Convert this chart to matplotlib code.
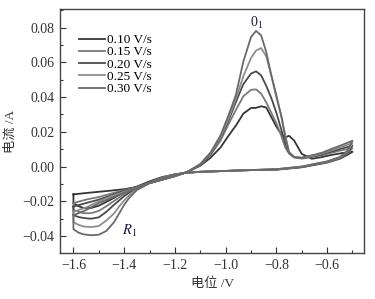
import matplotlib
matplotlib.use("Agg")
import matplotlib.pyplot as plt
from matplotlib.ticker import MultipleLocator

plt.rcParams['font.family'] = ['Liberation Serif', 'Noto Sans CJK SC']
plt.rcParams['mathtext.fontset'] = 'stix'

# scan rates shown in the legend
labels = ["0.10 V/s", "0.15 V/s", "0.20 V/s", "0.25 V/s", "0.30 V/s"]
colors = ["#353535", "#7a7a7a", "#4a4a4a", "#8e8e8e", "#6a6a6a"]

# potential grid (V) of the forward (anodic) sweep, -1.6 -> -0.5
E_anodic = [-1.60, -1.55, -1.50, -1.45, -1.40, -1.35, -1.30, -1.25, -1.20, -1.15,
            -1.10, -1.06, -1.02, -0.99, -0.96, -0.93, -0.90, -0.88, -0.86, -0.84,
            -0.82, -0.80, -0.78, -0.765, -0.75, -0.73, -0.70, -0.66, -0.62, -0.58,
            -0.54, -0.50]

# potential grid (V) of the reverse (cathodic) sweep, -0.5 -> -1.6
E_cathodic = [-0.50, -0.52, -0.55, -0.60, -0.70, -0.80, -0.90, -1.00, -1.10, -1.15,
              -1.20, -1.25, -1.30, -1.35, -1.38, -1.40, -1.42, -1.44, -1.47, -1.50,
              -1.53, -1.56, -1.58, -1.60]

# current (A), anodic sweep
i_an_010 = [-0.016, -0.0152, -0.0145, -0.0138, -0.013, -0.0118, -0.0095, -0.0075, -0.0055, -0.003,
            0.0005, 0.005, 0.011, 0.0175, 0.0235, 0.0305, 0.0337, 0.0338, 0.0347, 0.034,
            0.0285, 0.023, 0.0185, 0.0168, 0.0177, 0.015, 0.0073, 0.0045, 0.0055, 0.0068,
            0.0078, 0.0085]
i_an_015 = [-0.021, -0.019, -0.0175, -0.0155, -0.0135, -0.0118, -0.0095, -0.0075, -0.0055, -0.003,
            0.0008, 0.0065, 0.015, 0.024, 0.0325, 0.0405, 0.0442, 0.0444, 0.042, 0.037,
            0.031, 0.025, 0.0175, 0.011, 0.0075, 0.0052, 0.0046, 0.0055, 0.0065, 0.0081,
            0.0095, 0.0105]
i_an_020 = [-0.023, -0.021, -0.019, -0.0165, -0.014, -0.012, -0.0095, -0.0075, -0.0055, -0.003,
            0.001, 0.007, 0.0165, 0.026, 0.037, 0.0475, 0.0535, 0.0548, 0.0525, 0.0465,
            0.0395, 0.031, 0.021, 0.0135, 0.008, 0.0055, 0.0048, 0.0058, 0.007, 0.0088,
            0.0105, 0.012]
i_an_025 = [-0.026, -0.0235, -0.020, -0.017, -0.0145, -0.0123, -0.0095, -0.0075, -0.0055, -0.003,
            0.0013, 0.0075, 0.017, 0.027, 0.039, 0.052, 0.0625, 0.0668, 0.0682, 0.0635,
            0.0525, 0.040, 0.029, 0.018, 0.0085, 0.0055, 0.005, 0.006, 0.0075, 0.0095,
            0.0115, 0.0135]
i_an_030 = [-0.028, -0.025, -0.021, -0.018, -0.015, -0.0125, -0.0095, -0.0075, -0.0055, -0.003,
            0.0015, 0.008, 0.018, 0.029, 0.041, 0.0605, 0.0745, 0.0781, 0.0755, 0.066,
            0.0525, 0.041, 0.0285, 0.017, 0.008, 0.0055, 0.0052, 0.0065, 0.008, 0.0103,
            0.0125, 0.0149]

# current (A), cathodic sweep
i_ca_010 = [0.0085, 0.0068, 0.0045, 0.0023, -0.0004, -0.0018, -0.002, -0.0025, -0.003, -0.0035,
            -0.0045, -0.006, -0.0085, -0.0115, -0.0133, -0.0148, -0.0163, -0.018, -0.0203, -0.0225,
            -0.0238, -0.0238, -0.0228, -0.021]
i_ca_015 = [0.0105, 0.0075, 0.0048, 0.0025, -0.0003, -0.0017, -0.002, -0.0025, -0.003, -0.0035,
            -0.0045, -0.0063, -0.009, -0.012, -0.014, -0.0158, -0.0178, -0.0198, -0.0228, -0.0255,
            -0.0268, -0.0268, -0.026, -0.025]
i_ca_020 = [0.012, 0.008, 0.005, 0.0027, -0.0002, -0.0016, -0.002, -0.0025, -0.003, -0.0035,
            -0.0045, -0.0065, -0.0093, -0.0125, -0.015, -0.017, -0.0195, -0.022, -0.026, -0.0292,
            -0.030, -0.0296, -0.029, -0.028]
i_ca_025 = [0.0135, 0.0085, 0.0052, 0.0028, 0.0, -0.0015, -0.002, -0.0025, -0.003, -0.0035,
            -0.0045, -0.0065, -0.0095, -0.013, -0.0165, -0.0195, -0.023, -0.027, -0.031, -0.0342,
            -0.0348, -0.0345, -0.0335, -0.032]
i_ca_030 = [0.0149, 0.009, 0.0055, 0.003, 0.0, -0.0015, -0.002, -0.0025, -0.003, -0.0035,
            -0.0045, -0.0065, -0.0095, -0.0135, -0.018, -0.022, -0.027, -0.032, -0.037, -0.0392,
            -0.0395, -0.039, -0.038, -0.036]

anodic = [i_an_010, i_an_015, i_an_020, i_an_025, i_an_030]
cathodic = [i_ca_010, i_ca_015, i_ca_020, i_ca_025, i_ca_030]

fig = plt.figure(figsize=(3.75, 2.99), dpi=100)
ax = fig.add_axes([0.16, 0.154, 0.811, 0.816])

for ia, ic, lab, col in zip(anodic, cathodic, labels, colors):
    # close the loop: anodic sweep, cathodic sweep, back to the start
    xs = E_anodic + E_cathodic + [E_anodic[0]]
    ys = ia + ic + [ia[0]]
    ax.plot(xs, ys, color=col, lw=1.3, label=lab, solid_joinstyle='round')

ax.set_xlim(-1.653, -0.454)
ax.set_ylim(-0.0497, 0.0907)
ax.xaxis.set_major_locator(MultipleLocator(0.2))
ax.xaxis.set_minor_locator(MultipleLocator(0.1))
ax.yaxis.set_major_locator(MultipleLocator(0.02))
ax.yaxis.set_minor_locator(MultipleLocator(0.01))
ax.xaxis.set_major_formatter(plt.FuncFormatter(lambda v, p: f"{v:.1f}".replace("-", "\u2212")))
ax.yaxis.set_major_formatter(plt.FuncFormatter(lambda v, p: f"{v:.2f}".replace("-", "\u2212")))
ax.tick_params(which='both', direction='in', top=False, right=False, labelsize=10,
               colors='#333333', pad=4)
ax.tick_params(which='major', length=4, width=0.8)
ax.tick_params(which='minor', length=2.5, width=0.8)
for sp in ax.spines.values():
    sp.set_color('#444444')
    sp.set_linewidth(1.0)

ax.set_xlabel("电位 /V", fontsize=9.5, color='#333333', labelpad=4)
ax.set_ylabel("电流 /A", fontsize=9.5, color='#333333', labelpad=4)

ax.text(-0.877, 0.0825, r"$\mathregular{0_1}$", fontsize=10, color='#1c1c44',
        ha='center', va='center')
ax.text(-1.377, -0.0371, r"$R_1$", fontsize=10.5, color='#1c1c44',
        ha='center', va='center')

ax.legend(loc='upper left', bbox_to_anchor=(0.035, 0.93), frameon=False,
          fontsize=9.5, handlelength=2.0, handletextpad=0.15, labelspacing=0.0,
          borderaxespad=0.2)

fig.savefig("out.png", dpi=100)
